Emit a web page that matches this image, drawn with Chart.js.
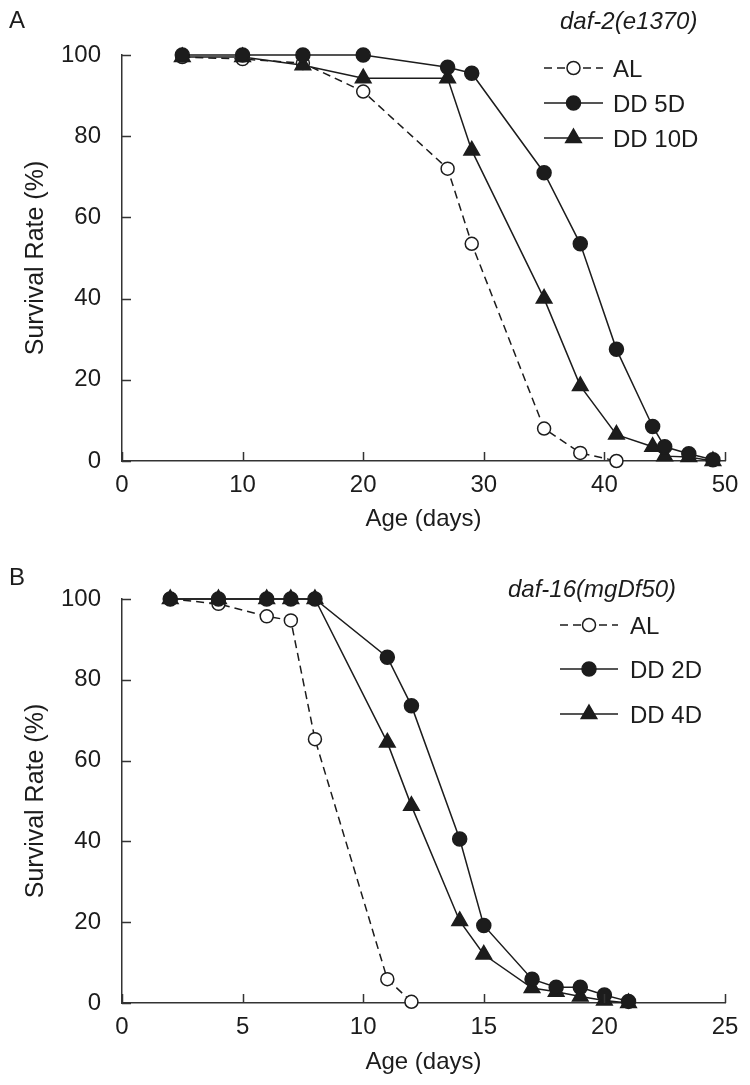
<!DOCTYPE html>
<html>
<head>
<meta charset="utf-8">
<script src="https://cdn.jsdelivr.net/npm/chart.js@4.4.1/dist/chart.umd.min.js"></script>
<style>
  body { margin: 0; background: #fff; }
  #wrap { position: relative; width: 750px; height: 1085px; }
  canvas { position: absolute; left: 0; }
  #chartA { top: 0; }
  #chartB { top: 542px; }
</style>
</head>
<body>
<div id="wrap">
  <canvas id="chartA" width="750" height="542"></canvas>
  <canvas id="chartB" width="750" height="543"></canvas>
</div>
<script>
// panel A: daf-2(e1370)
var daysA_AL = [5, 10, 15, 20, 27, 29, 35, 38, 41];
var survA_AL = [99.5, 99, 98, 91, 72, 53.5, 8, 2, 0];
var daysA_5D = [5, 10, 15, 20, 27, 29, 35, 38, 41, 44, 45, 47, 49];
var survA_5D = [100, 100, 100, 100, 97, 95.5, 71, 53.5, 27.5, 8.5, 3.5, 1.8, 0.3];
var daysA_10D = [5, 10, 15, 20, 27, 29, 35, 38, 41, 44, 45, 47, 49];
var survA_10D = [99.5, 99.5, 97.5, 94.3, 94.3, 76.5, 40, 18.5, 6.5, 3.5, 1.2, 1, 0];

// panel B: daf-16(mgDf50)
var daysB_AL = [2, 4, 6, 7, 8, 11, 12];
var survB_AL = [100, 98.8, 95.7, 94.7, 65.3, 5.9, 0.3];
var daysB_2D = [2, 4, 6, 7, 8, 11, 12, 14, 15, 17, 18, 19, 20, 21];
var survB_2D = [100, 100, 100, 100, 100, 85.6, 73.6, 40.6, 19.2, 5.9, 3.9, 3.9, 2, 0.4];
var daysB_4D = [2, 4, 6, 7, 8, 11, 12, 14, 15, 17, 18, 19, 20, 21];
var survB_4D = [100, 100, 100, 100, 100, 64.5, 48.8, 20.3, 12, 3.7, 2.8, 1.6, 0.6, 0];

var yTicks = [0, 20, 40, 60, 80, 100];
var FONT = "'Liberation Sans', Arial, sans-serif";
var INK = '#1c1c1c';

function pts(xs, ys) {
    var out = [];
    for (var i = 0; i < xs.length; i++) out.push({x: xs[i], y: ys[i]});
    return out;
}

function series(label, xs, ys, kind, order) {
    var ds = {
        label: label,
        data: pts(xs, ys),
        borderColor: INK,
        borderWidth: 1.5,
        pointBorderColor: INK,
        pointBorderWidth: 1.5,
        pointBackgroundColor: INK,
        pointStyle: 'circle',
        pointRadius: 7,
        clip: false,
        tension: 0,
        order: order
    };
    if (kind == 'open') {
        ds.borderDash = [8, 5];
        ds.pointBackgroundColor = '#fff';
        ds.pointRadius = 6.5;
    }
    if (kind == 'tri') {
        ds.pointStyle = 'triangle';
        ds.pointRadius = 9;
    }
    return ds;
}

// inward tick marks, legend with line + marker, panel letter, italic strain name
var decor = {
    id: 'decor',
    afterDraw: function (chart) {
        var o = chart.options.plugins.decor;
        var ctx = chart.ctx;
        var xs = chart.scales.x, ys = chart.scales.y;
        var area = chart.chartArea;
        ctx.save();
        ctx.strokeStyle = '#333';
        ctx.lineWidth = 1.5;
        ctx.beginPath();
        ys.ticks.forEach(function (t) {
            var py = Math.round(ys.getPixelForValue(t.value)) + 0.5;
            ctx.moveTo(area.left, py);
            ctx.lineTo(area.left + 9, py);
        });
        xs.ticks.forEach(function (t) {
            var px = Math.round(xs.getPixelForValue(t.value)) + 0.5;
            ctx.moveTo(px, area.bottom);
            ctx.lineTo(px, area.bottom - 9);
        });
        ctx.stroke();

        ctx.fillStyle = INK;
        ctx.textBaseline = 'middle';
        ctx.textAlign = 'left';
        ctx.font = '24px ' + FONT;
        ctx.fillText(o.letter, 9, o.letterY);
        ctx.font = 'italic 24px ' + FONT;
        ctx.fillText(o.strain, o.strainX, o.strainY);

        chart.data.datasets.forEach(function (ds, i) {
            var y = o.rowY[i];
            ctx.save();
            ctx.strokeStyle = ds.borderColor;
            ctx.lineWidth = ds.borderWidth;
            ctx.setLineDash(ds.borderDash || []);
            ctx.beginPath();
            ctx.moveTo(o.lineX0, y);
            ctx.lineTo(o.lineX1, y);
            ctx.stroke();
            ctx.restore();
            ctx.fillStyle = ds.pointBackgroundColor;
            ctx.strokeStyle = ds.pointBorderColor;
            ctx.lineWidth = ds.pointBorderWidth;
            Chart.helpers.drawPoint(ctx, {
                pointStyle: ds.pointStyle,
                radius: ds.pointRadius,
                rotation: 0,
                borderWidth: ds.pointBorderWidth
            }, (o.lineX0 + o.lineX1) / 2, y);
            ctx.fillStyle = INK;
            ctx.font = '24px ' + FONT;
            ctx.fillText(ds.label, o.textX, y + 2);
        });
        ctx.restore();
    }
};

function makeChart(id, datasets, xMax, xStep, h, top, deco) {
    return new Chart(document.getElementById(id), {
        type: 'line',
        data: {datasets: datasets},
        options: {
            responsive: false,
            maintainAspectRatio: false,
            animation: false,
            layout: {padding: {top: top, right: 25, left: 0, bottom: 0}},
            plugins: {legend: {display: false}, tooltip: {enabled: false}, decor: deco},
            scales: {
                x: {
                    type: 'linear',
                    min: 0, max: xMax,
                    afterFit: function (s) { s.height = h - 461; },
                    grid: {display: false},
                    border: {color: '#333', width: 1.5},
                    ticks: {stepSize: xStep, color: INK, padding: 2, font: {family: FONT, size: 24}},
                    title: {display: true, text: 'Age (days)', color: INK, padding: 8, font: {family: FONT, size: 24}}
                },
                y: {
                    min: 0, max: 100,
                    afterFit: function (s) { s.width = 122; },
                    afterBuildTicks: function (s) { s.ticks = yTicks.map(function (v) { return {value: v}; }); },
                    grid: {display: false},
                    border: {color: '#333', width: 1.5},
                    ticks: {color: INK, padding: 13, font: {family: FONT, size: 24}},
                    title: {display: true, text: 'Survival Rate (%)', color: INK, padding: 21, font: {family: FONT, size: 25}}
                }
            }
        },
        plugins: [decor]
    });
}

makeChart('chartA', [
    series('AL', daysA_AL, survA_AL, 'open', 2),
    series('DD 5D', daysA_5D, survA_5D, 'fill', 0),
    series('DD 10D', daysA_10D, survA_10D, 'tri', 1)
], 50, 10, 542, 55, {
    letter: 'A', letterY: 21, strain: 'daf-2(e1370)', strainX: 560, strainY: 22,
    rowY: [68, 103, 138], lineX0: 544, lineX1: 603, textX: 613
});

makeChart('chartB', [
    series('AL', daysB_AL, survB_AL, 'open', 2),
    series('DD 2D', daysB_2D, survB_2D, 'fill', 0),
    series('DD 4D', daysB_4D, survB_4D, 'tri', 1)
], 25, 5, 543, 57, {
    letter: 'B', letterY: 36, strain: 'daf-16(mgDf50)', strainX: 508, strainY: 48,
    rowY: [83, 127, 172], lineX0: 560, lineX1: 618, textX: 630
});
</script>
</body>
</html>
